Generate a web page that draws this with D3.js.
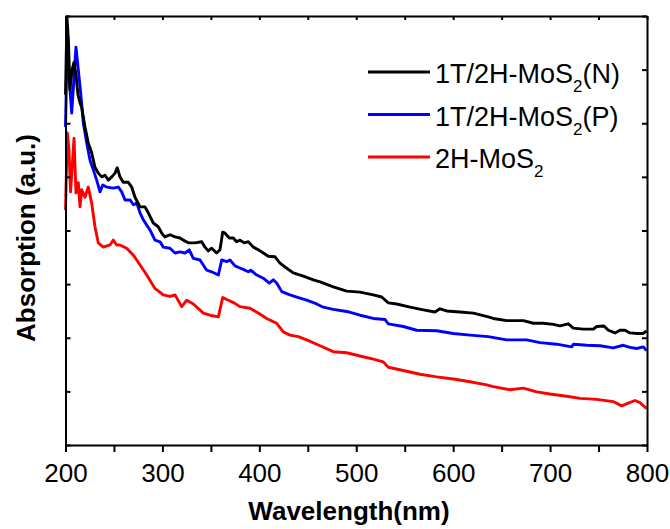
<!DOCTYPE html>
<html>
<head>
<meta charset="utf-8">
<script src="https://cdn.jsdelivr.net/npm/d3@7"></script>
<style>
  body { margin: 0; background: #fff; }
  svg { font-family: Arial, "Liberation Sans", sans-serif; }
  .axis path, .axis line { stroke: #000; stroke-width: 2; }
  .axis text { font-size: 26px; fill: #000; }
  .axis-title { font-size: 26px; font-weight: bold; }
  .legend text { font-size: 27px; }
</style>
</head>
<body>
<svg id="chart"></svg>
<script>
// series (wavelength in nm, absorption in arbitrary units)
const seriesNames = ['1T/2H-MoS2(N)', '1T/2H-MoS2(P)', '2H-MoS2'];
const seriesColors = ['#000000', '#0000ff', '#ff0000'];

const wavelengthN = [200, 201.5, 203, 204.6, 206.7, 208.8, 210.8, 212.9, 215, 216.7, 220.1, 223.5, 227, 230.4, 233.8, 237.4, 240.8, 244.2, 247.7, 251.1, 253.4, 256.2, 259.6, 264.8, 268.3, 271.7, 276.9, 282, 285.4, 290.6, 295.7, 299.3, 302.7, 307.8, 313, 318.1, 321.5, 326.7, 333.6, 340.5, 343.9, 347.3, 350.8, 356, 359.4, 362.2, 364.6, 369, 373.1, 376.6, 380, 384.2, 388.6, 393.8, 398.9, 404.1, 409.2, 416.2, 421.3, 426.5, 435, 445.4, 455.7, 462.6, 476.3, 490.1, 503.9, 517.6, 526.3, 533.1, 541.7, 555.5, 569.2, 581.2, 586.4, 593.3, 607, 620.8, 636.2, 641.4, 655.2, 672.4, 682.7, 693, 703.3, 710.2, 718.8, 724, 734.3, 744.6, 748.1, 755.6, 760.1, 767, 772.1, 777.3, 782.4, 789.4, 796.2, 799.5];
const absorbN = [6.53, 7.98, 7.55, 6.62, 6.99, 7.14, 6.90, 6.53, 6.38, 6.30, 5.93, 5.63, 5.45, 5.18, 5.07, 5.00, 5.03, 4.94, 5.00, 5.07, 5.17, 5.00, 4.90, 4.90, 4.81, 4.62, 4.44, 4.44, 4.33, 4.14, 4.07, 3.95, 3.88, 3.92, 3.88, 3.86, 3.82, 3.77, 3.77, 3.79, 3.69, 3.62, 3.67, 3.58, 3.64, 3.97, 3.95, 3.86, 3.86, 3.79, 3.82, 3.77, 3.79, 3.69, 3.64, 3.58, 3.52, 3.51, 3.39, 3.32, 3.21, 3.15, 3.08, 3.04, 2.95, 2.87, 2.85, 2.80, 2.76, 2.65, 2.63, 2.57, 2.52, 2.48, 2.54, 2.50, 2.48, 2.46, 2.39, 2.36, 2.32, 2.32, 2.27, 2.27, 2.25, 2.22, 2.26, 2.18, 2.16, 2.16, 2.21, 2.22, 2.14, 2.09, 2.14, 2.14, 2.09, 2.08, 2.08, 2.13];

const wavelengthP = [200, 201.5, 203.6, 206.4, 208.3, 210.8, 212.9, 215.7, 218.4, 221.9, 225.3, 228.7, 232.2, 235.6, 238.4, 242.5, 249.3, 254.5, 258, 261.4, 266.6, 270, 273.5, 276.9, 280.3, 283.8, 287.2, 292.3, 297.5, 300.9, 307.8, 313, 318.1, 323.3, 327.7, 331.9, 338.8, 345.7, 350.8, 357.7, 361.2, 366.3, 369.7, 374.9, 380, 385.2, 388.6, 391.1, 397.3, 404.1, 410.3, 414.4, 417.9, 423.1, 431.6, 440.2, 448.9, 459.2, 466, 476.3, 490.1, 503.9, 517.6, 529.7, 533.1, 548.5, 562.4, 583, 600.1, 617.4, 636.2, 655.2, 675.9, 689.6, 706.8, 722.3, 724.2, 737.8, 751.5, 765.2, 775.5, 782.4, 789.4, 796.2, 799.5];
const absorbP = [5.93, 7.27, 6.90, 6.19, 6.71, 7.42, 7.05, 6.56, 6.00, 5.63, 5.31, 5.13, 4.94, 4.72, 4.85, 4.81, 4.79, 4.81, 4.72, 4.57, 4.57, 4.48, 4.51, 4.33, 4.20, 4.10, 4.01, 3.82, 3.79, 3.69, 3.67, 3.58, 3.60, 3.58, 3.64, 3.48, 3.45, 3.26, 3.23, 3.17, 3.45, 3.42, 3.45, 3.34, 3.30, 3.26, 3.23, 3.26, 3.17, 3.11, 3.02, 3.08, 3.02, 2.86, 2.80, 2.75, 2.70, 2.63, 2.57, 2.53, 2.49, 2.42, 2.36, 2.34, 2.26, 2.21, 2.14, 2.13, 2.08, 2.05, 2.02, 1.96, 1.96, 1.91, 1.88, 1.83, 1.88, 1.86, 1.85, 1.81, 1.86, 1.82, 1.80, 1.83, 1.76];

const wavelength2H = [200, 201.9, 203.6, 205.2, 206.7, 208.8, 210.8, 213.2, 215, 216.7, 220.1, 223.5, 227, 230.4, 233.8, 239, 245.9, 249.3, 252.8, 256.2, 263.1, 270, 273.5, 283.8, 292.3, 300.9, 307.8, 313, 319.9, 325.1, 331.9, 342.2, 349.1, 357.7, 362.2, 368, 373.9, 380, 390.4, 398.9, 407.6, 417.9, 424.7, 431.6, 440.2, 448.9, 462.6, 476.3, 490.1, 503.9, 517.6, 527.9, 533.1, 548.5, 565.8, 583, 600.1, 617.4, 634.6, 641.4, 658.6, 672.4, 686.2, 699.9, 717.1, 730.9, 748.1, 765.2, 773.9, 780.7, 787.6, 792.8, 799.5];
const absorb2H = [4.38, 5.82, 5.50, 4.72, 5.13, 5.72, 4.70, 4.89, 4.44, 4.76, 4.62, 4.81, 4.51, 4.07, 3.77, 3.69, 3.73, 3.82, 3.73, 3.73, 3.67, 3.54, 3.45, 3.17, 2.92, 2.80, 2.77, 2.80, 2.58, 2.70, 2.63, 2.46, 2.42, 2.39, 2.75, 2.70, 2.65, 2.58, 2.55, 2.46, 2.36, 2.27, 2.11, 2.05, 2.02, 1.96, 1.85, 1.74, 1.72, 1.66, 1.60, 1.55, 1.45, 1.39, 1.32, 1.27, 1.23, 1.18, 1.12, 1.09, 1.03, 1.06, 0.99, 0.95, 0.91, 0.87, 0.85, 0.81, 0.73, 0.78, 0.83, 0.79, 0.68];

const xTickValues = [200, 250, 300, 350, 400, 450, 500, 550, 600, 650, 700, 750, 800];
const yTickValues = [0, 1, 2, 3, 4, 5, 6, 7, 8];

class LineChart {

  constructor(_config, _data) {
    this.config = {
      parentElement: _config.parentElement,
      containerWidth: _config.containerWidth || 670,
      containerHeight: _config.containerHeight || 529,
      margin: _config.margin || {top: 16, right: 23, bottom: 84, left: 65.5}
    }
    this.data = _data;
    this.initVis();
  }

  initVis() {
    let vis = this;

    vis.width = vis.config.containerWidth - vis.config.margin.left - vis.config.margin.right;
    vis.height = vis.config.containerHeight - vis.config.margin.top - vis.config.margin.bottom;

    vis.xScale = d3.scaleLinear()
        .domain([200, 800])
        .range([0, vis.width]);

    vis.yScale = d3.scaleLinear()
        .domain([0, 8])
        .range([vis.height, 0]);

    vis.svg = d3.select(vis.config.parentElement)
        .attr('width', vis.config.containerWidth)
        .attr('height', vis.config.containerHeight);

    vis.chart = vis.svg.append('g')
        .attr('transform', `translate(${vis.config.margin.left},${vis.config.margin.top})`);

    vis.line = d3.line()
        .x(d => vis.xScale(d[0]))
        .y(d => vis.yScale(d[1]));

    vis.renderVis();
  }

  renderVis() {
    let vis = this;

    // curves, drawn back to front
    vis.chart.selectAll('.curve')
        .data(vis.data.slice().reverse())
      .join('path')
        .attr('class', 'curve')
        .attr('fill', 'none')
        .attr('stroke', d => d.color)
        .attr('stroke-width', 2.9)
        .attr('stroke-linejoin', 'round')
        .attr('d', d => vis.line(d.values));

    // box axes
    vis.chart.append('g')
        .attr('class', 'axis')
        .attr('transform', `translate(0,${vis.height})`)
        .call(d3.axisBottom(vis.xScale)
          .tickValues(xTickValues)
          .tickSize(7)
          .tickSizeOuter(0)
          .tickPadding(11.5)
          .tickFormat(d => d % 100 === 0 ? d : ''));

    vis.chart.append('g')
        .attr('class', 'axis')
        .call(d3.axisTop(vis.xScale)
          .tickValues(xTickValues)
          .tickSize(-4)
          .tickSizeOuter(0)
          .tickFormat(''));

    vis.chart.append('g')
        .attr('class', 'axis')
        .call(d3.axisLeft(vis.yScale)
          .tickValues(yTickValues)
          .tickSize(-5)
          .tickSizeOuter(0)
          .tickFormat(''));

    vis.chart.append('g')
        .attr('class', 'axis')
        .attr('transform', `translate(${vis.width},0)`)
        .call(d3.axisRight(vis.yScale)
          .tickValues(yTickValues)
          .tickSize(-5)
          .tickSizeOuter(0)
          .tickFormat(''));

    // axis titles
    vis.svg.append('text')
        .attr('class', 'axis-title')
        .attr('x', 349)
        .attr('y', 520)
        .attr('text-anchor', 'middle')
        .text('Wavelength(nm)');

    vis.svg.append('text')
        .attr('class', 'axis-title')
        .attr('transform', 'translate(35,238) rotate(-90)')
        .attr('text-anchor', 'middle')
        .text('Absorption (a.u.)');

    // legend
    const legend = vis.svg.append('g')
        .attr('class', 'legend')
        .attr('transform', 'translate(368,72)');

    const items = legend.selectAll('.item')
        .data(vis.data)
      .join('g')
        .attr('class', 'item')
        .attr('transform', (d, i) => `translate(0,${i * 42.5})`);

    items.append('line')
        .attr('x1', 0)
        .attr('x2', 62)
        .attr('stroke', d => d.color)
        .attr('stroke-width', 2.9);

    items.each(function(d) {
      const parts = d.name.split('S2');
      const t = d3.select(this).append('text')
          .attr('x', 67)
          .attr('y', 11);
      t.append('tspan').text(parts[0] + 'S');
      t.append('tspan')
          .attr('dy', 9)
          .style('font-size', '17px')
          .text('2');
      if (parts[1]) {
        t.append('tspan')
            .attr('dy', -9)
            .text(parts[1]);
      }
    });
  }
}

const data = [
  {name: seriesNames[0], color: seriesColors[0], values: wavelengthN.map((w, i) => [w, absorbN[i]])},
  {name: seriesNames[1], color: seriesColors[1], values: wavelengthP.map((w, i) => [w, absorbP[i]])},
  {name: seriesNames[2], color: seriesColors[2], values: wavelength2H.map((w, i) => [w, absorb2H[i]])}
];

const chart = new LineChart({parentElement: '#chart'}, data);
</script>
</body>
</html>
